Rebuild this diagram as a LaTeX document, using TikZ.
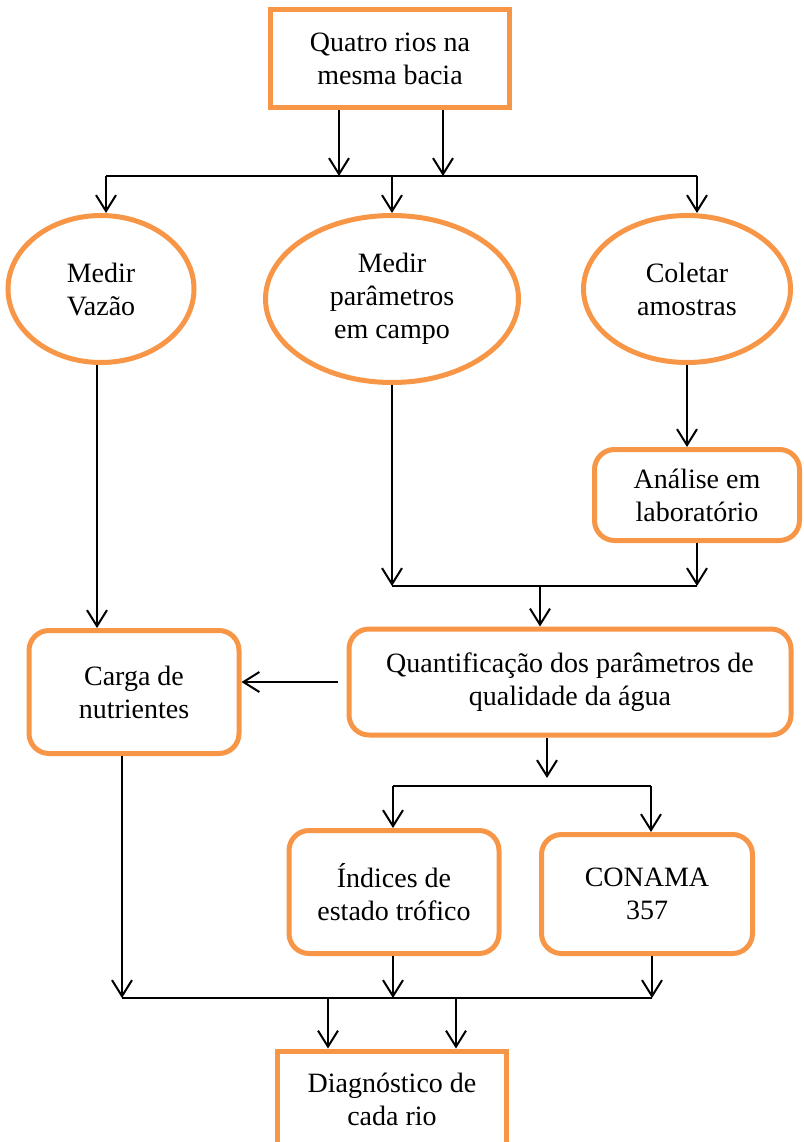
\documentclass[tikz,border=0pt]{standalone}
\usepackage{fontspec}
\setmainfont{Liberation Serif}
\usetikzlibrary{shapes.geometric,arrows.meta}
\definecolor{laranja}{RGB}{247,150,70}
\tikzset{
  caixa/.style={draw=laranja, line width=5pt, align=center, inner sep=0pt,
    font=\fontsize{28}{33}\selectfont},
  quadro/.style={caixa, rectangle},
  redondo/.style={caixa, rectangle, rounded corners=20pt},
  elipse/.style={caixa, ellipse},
  linha/.style={line width=2pt},
  seta/.style={line width=2pt, -{Straight Barb[length=16pt,width=20pt]}}
}
\begin{document}
\begin{tikzpicture}[x=1pt,y=-1pt]
  \useasboundingbox (0,0) rectangle (803,1142);
  \clip (0,0) rectangle (803,1142);
  % caixas
  \node [quadro, minimum width=239pt, minimum height=98pt] (quatro) at (390,59) {Quatro rios na\\mesma bacia};
  \node [elipse, minimum width=186pt, minimum height=147pt] (vazao) at (101,289) {Medir\\Vazão};
  \node [elipse, minimum width=253pt, minimum height=167pt] (campo) at (392,299) {Medir\\parâmetros\\em campo};
  \node [elipse, minimum width=207pt, minimum height=147pt] (coletar) at (687,289) {Coletar\\amostras};
  \node [redondo, minimum width=205pt, minimum height=91pt] (analise) at (697,495) {Análise em\\laboratório};
  \node [redondo, minimum width=442pt, minimum height=106pt] (quant) at (570,682) {Quantificação dos parâmetros de\\qualidade da água};
  \node [redondo, minimum width=210pt, minimum height=123pt] (carga) at (134,692) {Carga de\\nutrientes};
  \node [redondo, minimum width=210pt, minimum height=123pt] (indices) at (394,892) {Índices de\\estado trófico};
  \node [redondo, minimum width=211pt, minimum height=119pt] (conama) at (647,894) {CONAMA\\357};
  \node [quadro, minimum width=229pt, minimum height=96pt] (diag) at (392,1099) {Diagnóstico de\\cada rio};
  % pontos das linhas
  \coordinate (q1) at (339,176);
  \coordinate (q2) at (443,176);
  \coordinate (r1) at (106,176);
  \coordinate (r2) at (697,176);
  \coordinate (v) at (97,0);
  \coordinate (m1) at (392,586);
  \coordinate (m2) at (697,586);
  \coordinate (m3) at (540,586);
  \coordinate (n1) at (393,786);
  \coordinate (n2) at (651,786);
  \coordinate (n3) at (547,786);
  \coordinate (b1) at (122,998);
  \coordinate (b2) at (652,998);
  \coordinate (d1) at (328,998);
  \coordinate (d2) at (456,998);
  % topo
  \draw [seta] (quatro.south -| q1) -- (q1);
  \draw [seta] (quatro.south -| q2) -- (q2);
  \draw [linha] (r1) -- (r2);
  \draw [seta] (r1) -- (r1 |- vazao.north);
  \draw [seta] (campo.north |- r1) -- (campo.north);
  \draw [seta] (r2) -- (r2 |- coletar.north);
  % meio
  \draw [seta] (v |- vazao.south) -- (v |- carga.north);
  \draw [seta] (campo.south) -- (m1);
  \draw [seta] (coletar.south) -- (coletar.south |- analise.north);
  \draw [seta] (analise.south) -- (m2);
  \draw [linha] (m1) -- (m2);
  \draw [seta] (m3) -- (m3 |- quant.north);
  \draw [seta, shorten <=9pt] (quant.west) -- (quant.west -| carga.east);
  \draw [seta, shorten >=8pt] (n3 |- quant.south) -- (n3);
  \draw [linha] (n1) -- (n2);
  \draw [seta] (n1) -- (n1 |- indices.north);
  \draw [seta] (n2) -- (n2 |- conama.north);
  % base
  \draw [seta] (carga.south -| b1) -- (b1);
  \draw [seta] (indices.south -| n1) -- (n1 |- b1);
  \draw [seta] (conama.south -| b2) -- (b2);
  \draw [linha] (b1) -- (b2);
  \draw [seta] (d1) -- (d1 |- diag.north);
  \draw [seta] (d2) -- (d2 |- diag.north);
\end{tikzpicture}
\end{document}
